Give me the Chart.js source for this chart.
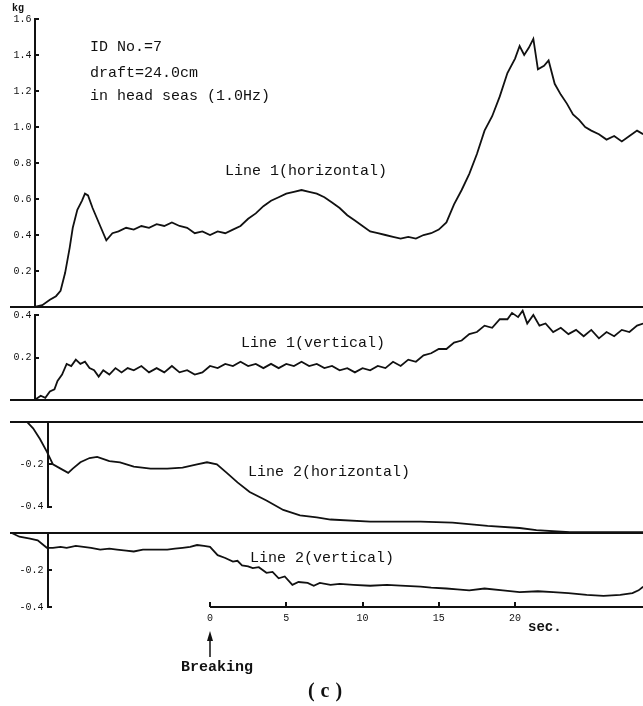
<!DOCTYPE html>
<html lang="en">
<head>
<meta charset="UTF-8">
<title>Line tension records, ID No.=7</title>
<style>
  html, body { margin: 0; padding: 0; background: #fff; }
  #wrap { position: relative; width: 643px; height: 706px; }
</style>
</head>
<body>
<div id="wrap"><canvas id="tensionChart"></canvas></div>
<script src="https://cdn.jsdelivr.net/npm/chart.js"></script>
<script>
// time in sec (0 = breaking), tension in kg
const h1Time = [-11.5,-11.0,-10.5,-10.1,-9.8,-9.5,-9.2,-9.0,-8.7,-8.4,-8.2,-8.0,-7.7,-7.2,-6.8,-6.4,-6.0,-5.5,-5.0,-4.5,-4.0,-3.5,-3.0,-2.5,-2.0,-1.5,-1.0,-0.5,0.0,0.5,1.0,1.5,2.0,2.5,3.0,3.5,4.0,4.5,5.0,5.5,6.0,6.5,7.0,7.5,8.0,8.5,9.0,9.5,10.0,10.5,11.0,11.5,12.0,12.5,13.0,13.5,14.0,14.5,15.0,15.5,16.0,16.5,17.0,17.5,18.0,18.5,19.0,19.5,20.0,20.3,20.6,20.9,21.2,21.5,21.9,22.2,22.6,23.0,23.4,23.8,24.2,24.6,25.0,25.5,26.0,26.5,27.0,27.5,28.0,28.4];
const h1Kg = [0.00,0.01,0.04,0.06,0.09,0.19,0.33,0.44,0.54,0.59,0.63,0.62,0.55,0.45,0.37,0.41,0.42,0.44,0.43,0.45,0.44,0.46,0.45,0.47,0.45,0.44,0.41,0.42,0.40,0.42,0.41,0.43,0.45,0.49,0.52,0.56,0.59,0.61,0.63,0.64,0.65,0.64,0.63,0.61,0.58,0.55,0.51,0.48,0.45,0.42,0.41,0.40,0.39,0.38,0.39,0.38,0.40,0.41,0.43,0.47,0.57,0.65,0.74,0.85,0.98,1.06,1.17,1.30,1.38,1.45,1.40,1.44,1.49,1.32,1.34,1.37,1.24,1.18,1.13,1.07,1.04,1.00,0.98,0.96,0.93,0.95,0.92,0.95,0.98,0.96];

const v1Time = [-11.5,-11.1,-10.8,-10.5,-10.2,-10.0,-9.7,-9.4,-9.1,-8.8,-8.5,-8.2,-7.9,-7.6,-7.3,-7.0,-6.6,-6.2,-5.8,-5.4,-5.0,-4.5,-4.0,-3.5,-3.0,-2.5,-2.0,-1.5,-1.0,-0.5,0.0,0.5,1.0,1.5,2.0,2.5,3.0,3.5,4.0,4.5,5.0,5.5,6.0,6.5,7.0,7.5,8.0,8.5,9.0,9.5,10.0,10.5,11.0,11.5,12.0,12.5,13.0,13.5,14.0,14.5,15.0,15.5,16.0,16.5,17.0,17.5,18.0,18.5,19.0,19.5,19.8,20.2,20.5,20.8,21.2,21.6,22.0,22.5,23.0,23.5,24.0,24.5,25.0,25.5,26.0,26.5,27.0,27.5,28.0,28.4];
const v1Kg = [0.00,0.02,0.01,0.04,0.05,0.09,0.12,0.17,0.16,0.19,0.17,0.18,0.15,0.14,0.11,0.14,0.12,0.15,0.13,0.15,0.14,0.16,0.13,0.15,0.13,0.16,0.13,0.14,0.12,0.13,0.16,0.15,0.17,0.16,0.18,0.16,0.17,0.15,0.17,0.15,0.17,0.16,0.18,0.16,0.17,0.15,0.16,0.14,0.15,0.13,0.15,0.14,0.16,0.15,0.18,0.16,0.19,0.18,0.21,0.22,0.24,0.24,0.27,0.28,0.31,0.32,0.35,0.34,0.38,0.38,0.41,0.39,0.42,0.36,0.40,0.35,0.36,0.32,0.34,0.31,0.33,0.30,0.33,0.29,0.32,0.30,0.33,0.32,0.35,0.36];

const h2Time = [-13.0,-12.0,-11.6,-11.15,-10.7,-10.3,-9.8,-9.3,-9.0,-8.5,-7.9,-7.4,-6.6,-5.9,-5.0,-3.9,-2.8,-1.8,-0.85,-0.2,0.45,1.1,1.8,2.6,3.7,4.8,5.9,7.0,7.9,10.5,13.8,15.9,18.2,20.3,21.4,23.6,28.4];
const h2Kg = [0.00,0.00,-0.03,-0.08,-0.14,-0.20,-0.22,-0.24,-0.22,-0.19,-0.17,-0.165,-0.185,-0.19,-0.21,-0.22,-0.22,-0.215,-0.20,-0.19,-0.20,-0.24,-0.285,-0.33,-0.37,-0.415,-0.44,-0.45,-0.46,-0.47,-0.47,-0.475,-0.49,-0.50,-0.51,-0.52,-0.52];

const v2Time = [-13.0,-12.5,-11.8,-11.3,-10.7,-10.3,-9.8,-9.4,-8.8,-8.3,-7.8,-7.2,-6.6,-6.1,-5.5,-5.0,-4.4,-3.9,-3.3,-2.8,-2.3,-1.8,-1.3,-0.85,-0.4,0.0,0.5,1.0,1.5,1.8,2.1,2.5,2.8,3.2,3.7,4.1,4.5,4.9,5.4,5.8,6.4,6.8,7.2,7.9,8.5,9.4,10.5,11.6,12.5,13.8,14.5,15.5,16.2,17.0,18.0,19.2,20.3,21.5,22.5,23.5,24.7,25.8,26.9,27.7,28.1,28.4];
const v2Kg = [0.00,-0.02,-0.03,-0.04,-0.08,-0.08,-0.075,-0.08,-0.07,-0.075,-0.08,-0.09,-0.085,-0.09,-0.095,-0.10,-0.09,-0.09,-0.09,-0.09,-0.085,-0.08,-0.075,-0.065,-0.07,-0.075,-0.12,-0.135,-0.155,-0.15,-0.175,-0.18,-0.19,-0.185,-0.215,-0.21,-0.245,-0.235,-0.28,-0.265,-0.27,-0.285,-0.27,-0.28,-0.275,-0.28,-0.285,-0.28,-0.285,-0.29,-0.295,-0.30,-0.305,-0.31,-0.30,-0.31,-0.32,-0.315,-0.32,-0.325,-0.335,-0.34,-0.335,-0.325,-0.31,-0.29];

const secTicks = [0, 5, 10, 15, 20];
const y1Ticks = [0.2, 0.4, 0.6, 0.8, 1.0, 1.2, 1.4, 1.6];
const y2Ticks = [0.2, 0.4];
const y3Ticks = [-0.2, -0.4];
const y4Ticks = [-0.2, -0.4];

const INK = '#111';
const MONO = '"Liberation Mono", "DejaVu Sans Mono", monospace';

// chart area in px; each panel axis spans the whole area, the band is set by zero pixel + px per kg
const AREA_TOP = 10, AREA_BOTTOM = 607;
const X_MIN = -13.115, X_MAX = 28.39;
// where the axis lines sit (sec) and where their labels end (sec)
const AXIS_A = -11.48, LABEL_A = -11.70;
const AXIS_B = -10.62, LABEL_B = -10.92;

function yAxis(tickValues, zeroPx, pxPerKg, labelAt) {
  return {
    type: 'linear',
    position: { x: labelAt },
    min: -(AREA_BOTTOM - zeroPx) / pxPerKg,
    max: (zeroPx - AREA_TOP) / pxPerKg,
    afterFit: s => { s.width = 0; },
    afterBuildTicks: s => { s.ticks = tickValues.map(v => ({ value: v })); },
    grid: { display: false, drawTicks: false, drawOnChartArea: false },
    border: { display: false },
    ticks: {
      autoSkip: false, padding: 0, color: INK,
      font: { family: MONO, size: 10 },
      callback: v => v.toFixed(1)
    }
  };
}

function series(times, kg, axisId, name) {
  return {
    label: name,
    yAxisID: axisId,
    data: times.map((t, i) => ({ x: t, y: kg[i] })),
    borderColor: INK,
    borderWidth: 1.8,
    pointRadius: 0,
    tension: 0,
    fill: false
  };
}

// vertical axis segments of each panel: [axis id, x position (sec), from, to]
const panelAxes = [
  ['y1', AXIS_A, 0, 1.6],
  ['y2', AXIS_A, 0, 0.4],
  ['y3', AXIS_B, 0, -0.4],
  ['y4', AXIS_B, 0, -0.4]
];

function seg(ctx, x1, y1, x2, y2) {
  ctx.beginPath();
  ctx.moveTo(x1, y1);
  ctx.lineTo(x2, y2);
  ctx.stroke();
}

const drawExtras = {
  id: 'drawExtras',
  afterDraw(chart) {
    const { ctx, chartArea, scales } = chart;
    const xs = scales.x;
    ctx.save();
    ctx.strokeStyle = INK;
    ctx.fillStyle = INK;
    ctx.lineWidth = 2;

    // panel base lines
    ['y1', 'y2', 'y3', 'y4'].forEach(id => {
      const py = Math.round(scales[id].getPixelForValue(0));
      seg(ctx, chartArea.left, py, chartArea.right, py);
    });

    // panel axes with ticks pointing right
    panelAxes.forEach(([id, at, from, to]) => {
      const s = scales[id];
      const ax = Math.round(xs.getPixelForValue(at));
      seg(ctx, ax, s.getPixelForValue(from), ax, s.getPixelForValue(to));
      s.ticks.forEach(t => {
        const py = Math.round(s.getPixelForValue(t.value));
        seg(ctx, ax - 1, py, ax + 4, py);
      });
    });

    // time axis from the breaking point on
    const by = chartArea.bottom;
    seg(ctx, xs.getPixelForValue(0), by, chartArea.right, by);
    xs.ticks.forEach(t => {
      const px = Math.round(xs.getPixelForValue(t.value));
      seg(ctx, px, by, px, by - 5);
    });

    // breaking arrow
    const bx = Math.round(xs.getPixelForValue(0));
    ctx.lineWidth = 1.5;
    seg(ctx, bx, 657, bx, 638);
    ctx.beginPath();
    ctx.moveTo(bx, 631);
    ctx.lineTo(bx - 3, 641);
    ctx.lineTo(bx + 3, 641);
    ctx.closePath();
    ctx.fill();

    ctx.textBaseline = 'middle';
    ctx.textAlign = 'left';
    ctx.font = 'bold 10px ' + MONO;
    ctx.fillText('kg', 12, 8);

    ctx.font = '15px ' + MONO;
    ctx.fillText('ID No.=7', 90, 47);
    ctx.fillText('draft=24.0cm', 90, 73);
    ctx.fillText('in head seas (1.0Hz)', 90, 96);
    ctx.fillText('Line 1(horizontal)', 225, 171);
    ctx.fillText('Line 1(vertical)', 241, 343);
    ctx.fillText('Line 2(horizontal)', 248, 472);
    ctx.fillText('Line 2(vertical)', 250, 558);

    ctx.font = 'bold 14px ' + MONO;
    ctx.fillText('sec.', 528, 627);

    ctx.textAlign = 'center';
    ctx.font = 'bold 15px ' + MONO;
    ctx.fillText('Breaking', 217, 667);

    ctx.font = 'bold 20px "Liberation Serif", serif';
    ctx.letterSpacing = '6px';
    ctx.fillText('(c)', 328, 692);
    ctx.restore();
  }
};

new Chart(document.getElementById('tensionChart'), {
  type: 'line',
  data: {
    datasets: [
      series(h1Time, h1Kg, 'y1', 'Line 1(horizontal)'),
      series(v1Time, v1Kg, 'y2', 'Line 1(vertical)'),
      series(h2Time, h2Kg, 'y3', 'Line 2(horizontal)'),
      series(v2Time, v2Kg, 'y4', 'Line 2(vertical)')
    ]
  },
  options: {
    responsive: true,
    maintainAspectRatio: false,
    animation: false,
    layout: { padding: { left: 10, right: 0, top: AREA_TOP, bottom: 706 - AREA_BOTTOM - 20 } },
    plugins: { legend: { display: false }, tooltip: { enabled: false } },
    scales: {
      x: {
        type: 'linear',
        min: X_MIN,
        max: X_MAX,
        afterFit: s => { s.height = 20; },
        afterBuildTicks: s => { s.ticks = secTicks.map(v => ({ value: v })); },
        grid: { display: false, drawTicks: false },
        border: { display: false },
        ticks: { autoSkip: false, maxRotation: 0, padding: 5, color: INK, font: { family: MONO, size: 10 } }
      },
      y1: yAxis(y1Ticks, 307, 180, LABEL_A),
      y2: yAxis(y2Ticks, 400, 212.5, LABEL_A),
      y3: yAxis(y3Ticks, 422, 212, LABEL_B),
      y4: yAxis(y4Ticks, 533, 185, LABEL_B)
    }
  },
  plugins: [drawExtras]
});
</script>
</body>
</html>
